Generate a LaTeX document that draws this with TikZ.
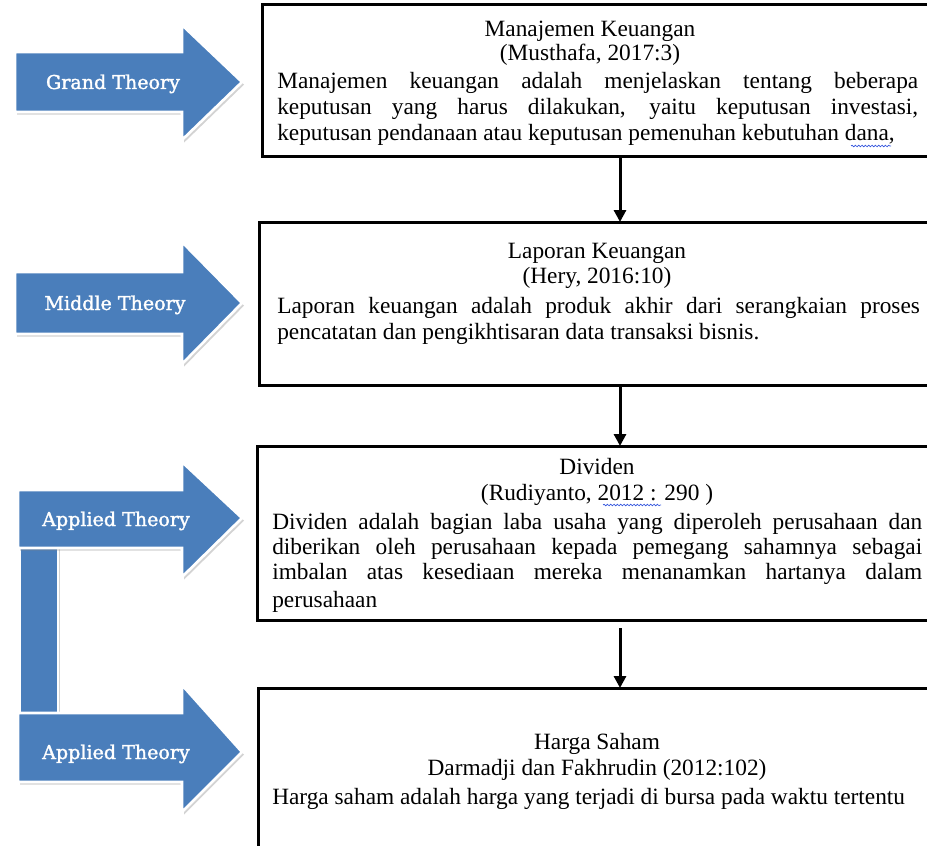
\documentclass[tikz,border=0pt]{standalone}
\usepackage{fontspec}
\setmainfont{Liberation Serif}
\newfontfamily\lblfont[FakeBold=1.6]{DejaVu Serif}
\usetikzlibrary{arrows.meta,shadows,calc,decorations.pathmorphing}
\definecolor{arrowblue}{HTML}{4A7EBB}
\definecolor{squiggle}{HTML}{3355DD}
\newcommand{\bodyfont}{\fontsize{17.5}{21}\selectfont}
\newcommand{\jline}[2]{\makebox[#1][s]{#2}}
\begin{document}
\begin{tikzpicture}[x=0.75pt,y=-0.75pt,
  boxframe/.style={draw=black, line width=2.25pt, inner sep=0pt, outer sep=0pt, anchor=north west},
  body/.style={inner sep=0pt, anchor=base west, font=\bodyfont},
  title/.style={inner sep=0pt, anchor=base, font=\bodyfont},
  theoryarrow/.style={fill=arrowblue, draw=white, line width=2pt, line join=miter,
    drop shadow={opacity=0.35, shadow xshift=1.5pt, shadow yshift=-2pt}},
  theorylabel/.style={text=white, font=\lblfont\fontsize{14.3}{16}\selectfont, inner sep=0pt, anchor=base},
  flow/.style={draw=black, line width=2.25pt, -{Triangle[length=9pt,width=9pt]}},
  spell/.style={draw=squiggle, line width=0.5pt, decorate,
    decoration={snake, amplitude=0.6pt, segment length=2.5pt}},
]
\useasboundingbox (0,0) rectangle (927,845);
\clip (0,0) rectangle (927,845);

% ---- theory arrows ----
\path[theoryarrow] (20,540) rectangle (58,720);
\path[theoryarrow] (15,52) -- (182,52) -- (182,25) -- (242,82) -- (182,140) -- (182,112) -- (15,112) -- cycle;
\path[theoryarrow] (15,272) -- (182,272) -- (182,242) -- (242,303) -- (182,364) -- (182,334) -- (15,334) -- cycle;
\path[theoryarrow] (18,490) -- (182,490) -- (182,462) -- (242,518) -- (182,577) -- (182,548) -- (18,548) -- cycle;
\path[theoryarrow] (18,713) -- (182,713) -- (182,685) -- (242,752) -- (182,812) -- (182,782) -- (18,782) -- cycle;

\node[theorylabel] (lg) at (113,89) {Grand Theory};
\node[theorylabel] (lm) at (115,310) {Middle Theory};
\node[theorylabel] (la1) at (116,526) {Applied Theory};
\node[theorylabel] (la2) at (116,759) {Applied Theory};

% ---- boxes ----
\node[boxframe, minimum width=508.5pt, minimum height=114pt] (b1) at (262,5) {};
\node[boxframe, minimum width=510.75pt, minimum height=122.25pt] (b2) at (259,222) {};
\node[boxframe, minimum width=512.25pt, minimum height=130.5pt] (b3) at (257,446) {};
\node[boxframe, minimum width=511.5pt, minimum height=136.5pt] (b4) at (258,688) {};

% ---- box 1 text ----
\node[title] (t1) at (590,37) {Manajemen Keuangan};
\node[title] (c1) at (590,61) {(Musthafa, 2017:3)};
\node[body] (p1a) at (277,89) {\jline{480.75pt}{Manajemen keuangan adalah menjelaskan tentang beberapa}};
\node[body] (p1b) at (277,115) {\jline{480.75pt}{keputusan yang harus dilakukan, yaitu keputusan investasi,}};
\node[body] (p1c) at (277,141) {keputusan pendanaan atau keputusan pemenuhan kebutuhan dana,};
\draw[spell] ($(p1c.base east)+(-44,5)$) -- ($(p1c.base east)+(-4,5)$);

% ---- box 2 text ----
\node[title] (t2) at (597,258) {Laporan Keuangan};
\node[title] (c2) at (597,283) {(Hery, 2016:10)};
\node[body] (p2a) at (277,313) {\jline{482pt}{Laporan keuangan adalah produk akhir dari serangkaian proses}};
\node[body] (p2b) at (277,339) {pencatatan dan pengikhtisaran data transaksi bisnis.};

% ---- box 3 text ----
\node[title] (t3) at (597,474) {Dividen};
\node[title] (c3) at (597,500) {(Rudiyanto, 2012 : 290 )};
\draw[spell] ($(c3.base)+(6,5)$) -- ($(c3.base)+(64,5)$);
\node[body] (p3a) at (272,529) {\jline{487.5pt}{Dividen adalah bagian laba usaha yang diperoleh perusahaan dan}};
\node[body] (p3b) at (272,554) {\jline{487.5pt}{diberikan oleh perusahaan kepada pemegang sahamnya sebagai}};
\node[body] (p3c) at (272,579) {\jline{487.5pt}{imbalan atas kesediaan mereka menanamkan hartanya dalam}};
\begin{scope}
\clip (257,446) rectangle (940,611);
\node[body] (p3d) at (272,607) {perusahaan};
\end{scope}

% ---- box 4 text ----
\node[title] (t4) at (597,749) {Harga Saham};
\node[title] (c4) at (597,775) {Darmadji dan Fakhrudin (2012:102)};
\node[body] (p4a) at (272,804) {Harga saham adalah harga yang terjadi di bursa pada waktu tertentu};

% ---- connectors ----
\coordinate (fx) at (620,0);
\draw[flow] (b1.south -| fx) -- (b2.north -| fx);
\draw[flow] (b2.south -| fx) -- (b3.north -| fx);
\draw[flow, shorten <=6pt] (b3.south -| fx) -- (b4.north -| fx);
\end{tikzpicture}
\end{document}
